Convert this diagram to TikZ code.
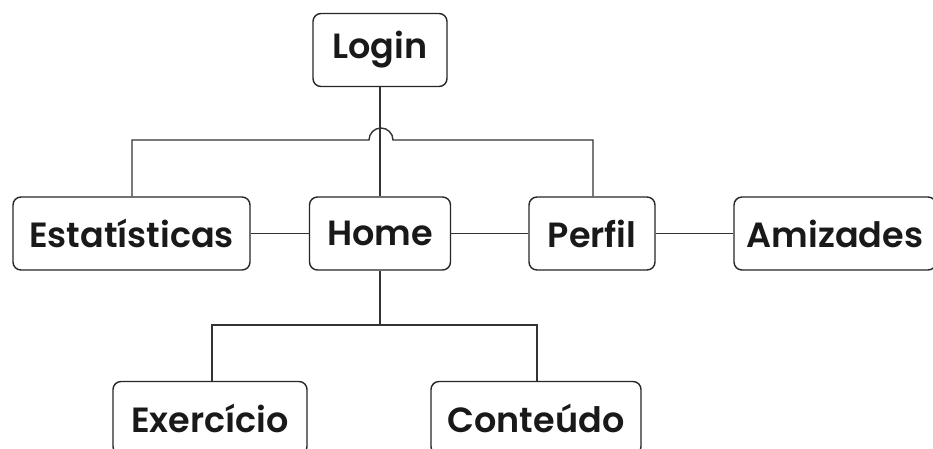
\documentclass[tikz,border=0pt]{standalone}
\usepackage{fontspec}
\setmainfont{Poppins}[UprightFont={* SemiBold}]
\begin{document}
\begin{tikzpicture}[x=1pt,y=-1pt,
  box/.style={draw=black!85, line width=1.4pt, rounded corners=8pt, fill=white,
    minimum height=73pt, inner sep=0pt, font=\fontsize{35}{40}\selectfont, text=black!90},
  link/.style={draw=black!80, line width=1.4pt}]
\useasboundingbox (0,0) rectangle (933,448);
\clip (0,0) rectangle (933,448);
% nodes
\node[box, minimum width=134pt] (login) at (380,50) {Login};
\node[box, minimum width=237pt] (stats) at (131.5,233.5) {Estatísticas};
\node[box, minimum width=141pt] (home) at (380,233.5) {Home};
\node[box, minimum width=126pt] (perfil) at (592,233.5) {Perfil};
\node[box, minimum width=202pt] (amiz) at (835,233.5) {Amizades};
\node[box, minimum width=194pt] (exer) at (210,418) {Exercício};
\node[box, minimum width=210pt] (cont) at (536,418) {Conteúdo};
% connectors
\coordinate (hopL) at (369,140);
\draw[link] (login.south) -- (home.north);
\draw[link] (stats.north -| 132,0) |- (hopL) arc[start angle=-180, end angle=0, radius=12] -| (perfil.north -| 593,0);
\draw[link] (stats.east) -- (home.west);
\draw[link] (home.east) -- (perfil.west);
\draw[link] (perfil.east) -- (amiz.west);
\coordinate (fork) at (380,325);
\draw[link] (home.south) -- (fork);
\draw[link] (fork) -| (exer.north -| 212,0);
\draw[link] (fork) -| (cont.north -| 537,0);
\end{tikzpicture}
\end{document}
